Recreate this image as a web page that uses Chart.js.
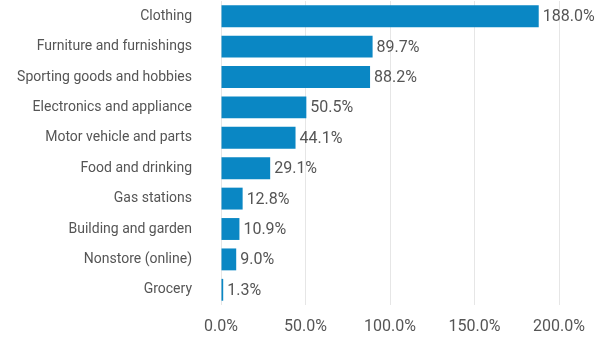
<!DOCTYPE html>
<html><head><meta charset="utf-8">
<script src="https://cdn.jsdelivr.net/npm/chart.js@4"></script>
<style>html,body{margin:0;padding:0;background:#fff;overflow:hidden}canvas{display:block}</style>
</head><body><canvas id="c" width="608" height="337" style="width:608px;height:337px"></canvas>
<script>
const categories = ["Clothing","Furniture and furnishings","Sporting goods and hobbies","Electronics and appliance","Motor vehicle and parts","Food and drinking","Gas stations","Building and garden","Nonstore (online)","Grocery"];
const values = [188.0, 89.7, 88.2, 50.5, 44.1, 29.1, 12.8, 10.9, 9.0, 1.3];
const tickValues = [0, 50, 100, 150, 200];

const labelPlugin = {
  id: 'endLabels',
  afterDatasetsDraw(chart) {
    const ctx = chart.ctx;
    const meta = chart.getDatasetMeta(0);
    ctx.save();
    ctx.font = '16px Roboto';
    ctx.fillStyle = '#555555';
    ctx.textAlign = 'left';
    ctx.textBaseline = 'middle';
    meta.data.forEach((bar, i) => {
      ctx.fillText(values[i].toFixed(1) + '%', bar.x + 4, bar.y + 1);
    });
    ctx.restore();
  }
};

new Chart(document.getElementById('c'), {
  type: 'bar',
  data: { labels: categories, datasets: [{ data: values, backgroundColor: '#0a87c4', barPercentage: 0.9, categoryPercentage: 0.8 }] },
  options: {
    indexAxis: 'y', responsive: false, animation: false, devicePixelRatio: 1,
    layout: { padding: { top: 1, right: 49, bottom: 3, left: 0 } },
    plugins: { legend: { display: false }, tooltip: { enabled: false } },
    scales: {
      x: {
        min: 0, max: 200,
        afterBuildTicks(s) { s.ticks = tickValues.map(v => ({ value: v })); },
        afterFit(s) { s.height = 29; s.paddingLeft = 0; s.paddingRight = 0; },
        grid: { color: '#e6e6e6', drawTicks: false },
        border: { display: false },
        ticks: { padding: 12, maxRotation: 0, color: '#555555', font: { family: 'Roboto', size: 16 }, callback: v => v.toFixed(1) + '%' }
      },
      y: {
        grid: { display: false, drawTicks: false },
        border: { display: false },
        afterFit(s) { s.width = 221; s.paddingTop = 0; s.paddingBottom = 0; },
        ticks: { padding: 29, color: '#555555', font: { family: 'Roboto', size: 14 } }
      }
    }
  },
  plugins: [labelPlugin]
});
</script></body></html>
